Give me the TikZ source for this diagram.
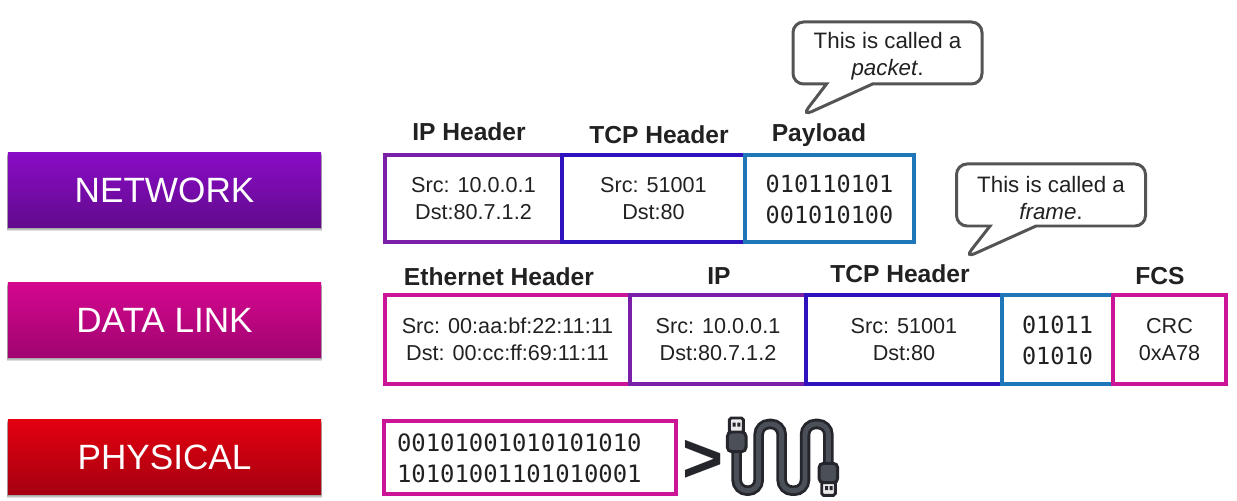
\documentclass[tikz,border=0pt]{standalone}
\usepackage{xcolor}
\usepackage{fontspec}
\setmainfont{Liberation Sans}
\setmonofont{DejaVu Sans Mono}
\usetikzlibrary{shapes.callouts, positioning, shadows}

\definecolor{inkc}{HTML}{212121}
\definecolor{purplec}{HTML}{7A1FA8}
\definecolor{indigoc}{HTML}{2F12BE}
\definecolor{bluec}{HTML}{1F77B9}
\definecolor{pinkc}{HTML}{CC1497}
\definecolor{cablec}{HTML}{25262B}
\definecolor{cableg}{HTML}{4B4F58}
\definecolor{nettop}{HTML}{8A0CC6}
\definecolor{netbot}{HTML}{610A8C}
\definecolor{linktop}{HTML}{D4068F}
\definecolor{linkbot}{HTML}{A00570}
\definecolor{phytop}{HTML}{E3000F}
\definecolor{phybot}{HTML}{A50010}

\newcommand{\notelift}{\rule{0pt}{12.8pt}}
\newcommand{\bitlift}{\rule{0pt}{11.4pt}}

\begin{document}
\begin{tikzpicture}[
    softshadow/.style={general shadow={fill=black, opacity=.13, shadow xshift=0pt, shadow yshift=#1, shadow scale=1.004}},
    layer/.style={rectangle, minimum width=6.26cm, minimum height=1.5cm, text=white,
        font=\fontsize{20}{24}\selectfont, softshadow=-.5pt, softshadow=-1.1pt, softshadow=-1.8pt},
    field/.style={rectangle, draw, line width=1.9pt, inner sep=0pt, align=center, text=inkc,
        font=\fontsize{12.3}{15.3}\selectfont},
    bits/.style={field, font=\ttfamily\fontsize{13.4}{17.6}\selectfont},
    head/.style={font=\bfseries\fontsize{14}{17}\selectfont, text=inkc, inner sep=0pt},
    note/.style={rectangle callout, draw=black!67, line width=1.7pt, rounded corners=6pt, fill=white,
        callout pointer width=.92cm, minimum width=3.78cm, minimum height=1.24cm, inner sep=0pt, align=center, text=inkc,
        font=\fontsize{12.7}{15}\selectfont},
    cable/.style={draw=cablec, line width=1.6pt, double=cableg, double distance=2.8pt, rounded corners=.21cm},
    plughead/.style={draw=cablec, fill=black!8, line width=1.6pt, rounded corners=1pt},
    plugbody/.style={draw=cablec, fill=cableg, line width=1.7pt, rounded corners=2.5pt}
]
\useasboundingbox (0,0) rectangle (24.74,10.02);

% Layers
\node[layer, top color=nettop, bottom color=netbot] (network) at (3.29, 6.21) {NETWORK};
\node[layer, top color=linktop, bottom color=linkbot] (datalink) at (3.29, 3.61) {DATA LINK};
\node[layer, top color=phytop, bottom color=phybot] (physical) at (3.29, 0.87) {PHYSICAL};

% Packet
\node[field, draw=purplec, minimum width=3.54cm, minimum height=1.74cm] (ipbox) at (9.47, 6.05) {Src: 10.0.0.1\\Dst:80.7.1.2};
\node[field, draw=indigoc, minimum width=3.66cm, minimum height=1.74cm] (tcpbox) at (13.07, 6.05) {Src: 51001\\Dst:80};
\node[bits, draw=bluec, minimum width=3.38cm, minimum height=1.74cm] (payload) at (16.59, 6.05) {\bitlift 010110101\\001010100};

\node[head] (iphead) at (9.38, 7.38) {IP Header};
\node[head] (tcphead) at (13.18, 7.32) {TCP Header};
\node[head] (payhead) at (16.38, 7.32) {Payload};

% Frame
\node[field, draw=pinkc, minimum width=4.9cm, minimum height=1.78cm] (ethbox) at (10.15, 3.23) {Src: 00:aa:bf:22:11:11\\Dst: 00:cc:ff:69:11:11};
\node[field, draw=purplec, minimum width=3.52cm, minimum height=1.78cm] (ipframe) at (14.36, 3.23) {Src: 10.0.0.1\\Dst:80.7.1.2};
\node[field, draw=indigoc, minimum width=3.92cm, minimum height=1.78cm] (tcpframe) at (18.08, 3.23) {Src: 51001\\Dst:80};
\node[bits, draw=bluec, minimum width=2.22cm, minimum height=1.78cm] (payframe) at (21.15, 3.23) {\bitlift 01011\\01010};
\node[field, draw=pinkc, minimum width=2.26cm, minimum height=1.78cm] (fcsbox) at (23.39, 3.23) {CRC\\0xA78};

\node[head] (ethhead) at (9.98, 4.48) {Ethernet Header};
\node[head] (ipfhead) at (14.38, 4.5) {IP};
\node[head] (tcpfhead) at (18.0, 4.54) {TCP Header};
\node[head] (fcshead) at (23.2, 4.5) {FCS};

% Callouts
\node[note, callout absolute pointer={(16.04, 7.7)}] (packetnote) at (17.75, 8.96) {\notelift This is called a\\\textit{packet}.};
\node[note, callout absolute pointer={(19.3, 4.86)}] (framenote) at (21.02, 6.12) {\notelift This is called a\\\textit{frame}.};

% Bits on the wire
\node[bits, draw=pinkc, minimum width=5.84cm, minimum height=1.46cm, text width=5.32cm, align=left,
    font=\ttfamily\fontsize{13.6}{17.6}\selectfont] (wire) at (10.6, 0.87) {\bitlift 00101001010101010\\10101001101010001};
\node[font=\bfseries\fontsize{40}{40}\selectfont, text=cablec, inner sep=0pt] (gt) at (14.07, 0.8) {>};

% USB cable
\begin{scope}[shift={(13.2, 2.02)}, x=0.00667cm, y=-0.00667cm]
    \draw[cable] (230,150) -- (230,272) -- (296,272) -- (296,72) -- (365,72) -- (365,272) -- (435,272) -- (435,72) -- (505,72) -- (505,195);
    \draw[plughead] (208,54) rectangle (250,98);
    \fill[cablec] (218,68) rectangle (227,80) (232,68) rectangle (241,80);
    \draw[plugbody] (202,96) rectangle (258,155);
    \draw[plughead] (485,245) rectangle (526,286);
    \fill[cablec] (495,258) rectangle (504,270) (509,258) rectangle (518,270);
    \draw[plugbody] (477,190) rectangle (533,248);
\end{scope}

\end{tikzpicture}
\end{document}
